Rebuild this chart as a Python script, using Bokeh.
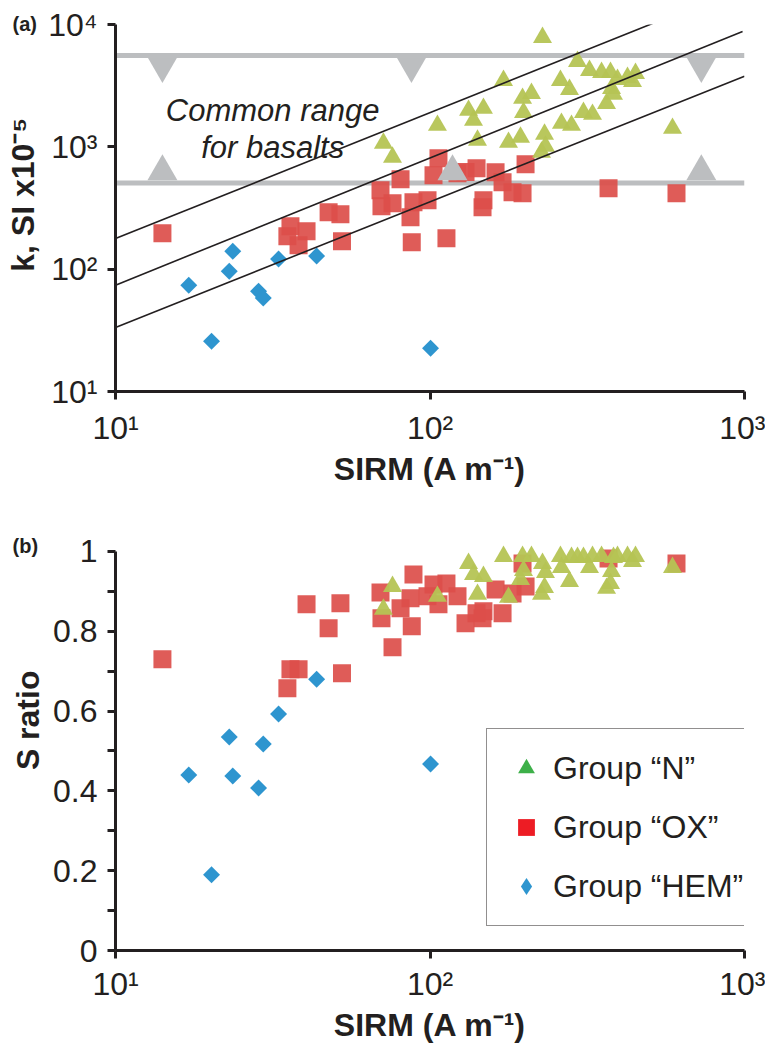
from bokeh.plotting import figure
from bokeh.models import (Range1d, FixedTicker, CustomJSTickFormatter, Label, Legend,
                          LegendItem)
from bokeh.layouts import column
from bokeh.embed import file_html
from bokeh.resources import INLINE
import math

FONT = "Liberation Sans"
INK = "#231f20"

# ---------------- data ----------------
# Group "HEM"
hem_sirm = [17.1, 20.2, 23.0, 23.6, 28.5, 29.5, 33.0, 43.6, 100.4]
hem_k = [74, 25.8, 96, 140, 66, 58, 121, 128, 22.6]
hem_s = [0.44, 0.19, 0.535, 0.4375, 0.4075, 0.5175, 0.5925, 0.68, 0.4675]

# Group "OX"
ox_sirm = [14.1, 35.2, 36.0, 38.2, 40.5, 47.6, 51.9, 52.5, 69.6, 70.1, 76.0, 80.6, 86.7, 87.5,
           88.6, 98.2, 102.6, 106.4, 112.8, 122.3, 129.7, 140.6, 146.9, 147.9, 161.6, 170.1,
           183.0, 196.9, 201.3, 369.6, 607.8]
ox_k = [197, 186, 224, 157, 204, 292, 281, 169, 442, 327, 346, 543, 266, 166, 352, 366, 585,
        806, 179, 608, 622, 668, 321, 366, 619, 513, 425, 417, 720, 459, 417]
ox_s = [0.73, 0.6575, 0.705, 0.705, 0.8675, 0.8075, 0.87, 0.695, 0.8975, 0.8325, 0.76, 0.8575,
        0.8825, 0.8125, 0.9425, 0.8875, 0.9175, 0.8675, 0.92, 0.8875, 0.82, 0.845, 0.8325, 0.85,
        0.905, 0.845, 0.895, 0.97, 0.9125, 0.9825, 0.97]

# Group "N"
n_sirm = [71.1, 76.0, 105.6, 132.6, 137.5, 141.6, 147.9, 171.3, 177.7, 196.9, 194.0, 198.3,
          210.2, 227.9, 226.2, 231.3, 232.9, 259.9, 261.8, 277.7, 281.8, 294.4, 307.6, 321.5,
          328.6, 351.1, 364.2, 374.9, 377.7, 383.2, 394.6, 424.6, 440.4, 450.2, 590.3]
n_k = [1068, 821, 1498, 1986, 1646, 1130, 2062, 3490, 1088, 2489, 1196, 1912, 2734, 7832, 902,
       1265, 1010, 3490, 1555, 2948, 1498, 4989, 1912, 4212, 1842, 4057, 2265, 4057, 3004, 2684,
       3556, 3692, 3425, 3981, 1416]
n_s = [0.855, 0.9125, 0.8875, 0.97, 0.9425, 0.8925, 0.9375, 0.9875, 0.885, 0.9875, 0.93, 0.9525,
       0.9875, 0.97, 0.8925, 0.91, 0.9475, 0.9875, 0.96, 0.925, 0.985, 0.985, 0.985, 0.96, 0.9875,
       0.9875, 0.9075, 0.92, 0.95, 0.985, 0.9875, 0.9875, 0.975, 0.9875, 0.96]

# common range of susceptibility for basalts (k, SI x10^-5)
basalt_k_low = 507
basalt_k_high = 5580
basalt_sirm_span = [10, 1000]
range_marker_down_sirm = [14.1, 87.3, 729]
range_marker_down_k = [4600, 4600, 4600]
range_marker_up_sirm = [14.1, 117.9, 729]
range_marker_up_k = [628, 628, 628]

# reference lines (SIRM vs k)
ref_lines_sirm = [[10, 510], [10, 986], [10, 1000]]
ref_lines_k = [[178, 10190], [74, 8770], [33.4, 3780]]

legend_labels = ["Group \u201cN\u201d", "Group \u201cOX\u201d", "Group \u201cHEM\u201d"]

C_N = "#b5c454"
C_OX = "#dc4e4a"
C_HEM = "#2e95cf"
C_GRAY = "#bcbec0"
PAD = "\u00a0"

# ---------------- helpers ----------------
pow_fmt = CustomJSTickFormatter(code="""
const sup = {"0":"\u2070","1":"\u00b9","2":"\u00b2","3":"\u00b3","4":"\u2074","5":"\u2075"};
const e = Math.round(Math.log10(tick));
return "10" + sup[String(e)];
""")

lin_fmt = CustomJSTickFormatter(code="""
if (Math.abs(tick) < 1e-9) return "0";
if (Math.abs(tick - 1) < 1e-9) return "1";
return tick.toFixed(1);
""")


def style_axis(ax):
    ax.axis_line_width = 3
    ax.axis_line_color = INK
    ax.major_tick_line_width = 3
    ax.major_tick_line_color = INK
    ax.major_tick_out = 8
    ax.major_tick_in = 0
    ax.minor_tick_line_color = None
    ax.major_label_text_font = FONT
    ax.major_label_text_font_size = "32px"
    ax.major_label_text_color = INK
    ax.axis_label_text_font = FONT
    ax.axis_label_text_font_style = "bold"
    ax.axis_label_text_font_size = "32px"
    ax.axis_label_text_color = INK


def base_fig(height, y_range, y_type, top, bottom, tag, tag_standoff):
    p = figure(width=765, height=height, x_axis_type="log", y_axis_type=y_type,
               x_range=Range1d(10, 1000), y_range=y_range,
               output_backend="svg", toolbar_location=None,
               min_border_left=115, min_border_right=21,
               min_border_top=top, min_border_bottom=bottom,
               title=tag)
    p.title.align = "left"
    p.title.offset = -103
    p.title.standoff = tag_standoff
    p.title.text_font = FONT
    p.title.text_font_style = "bold"
    p.title.text_font_size = "20px"
    p.title.text_color = INK
    p.outline_line_color = None
    p.xgrid.visible = False
    p.ygrid.visible = False
    p.background_fill_color = "white"
    p.border_fill_color = "white"
    return p


# ---------------- panel (a) ----------------
p1 = base_fig(490, Range1d(10, 10000), "log", 24, 99, "(a)", -20)

for kv in (basalt_k_low, basalt_k_high):
    p1.line(x=basalt_sirm_span, y=[kv, kv], line_color=C_GRAY, line_width=5)

p1.scatter(x=hem_sirm, y=hem_k, marker="square", angle=math.pi / 4, size=12,
           fill_color=C_HEM, line_color=None)
p1.scatter(x=ox_sirm, y=ox_k, marker="square", size=18, fill_color=C_OX, fill_alpha=0.92,
           line_color=None)
p1.scatter(x=n_sirm, y=n_k, marker="triangle", size=19, fill_color=C_N, fill_alpha=0.95,
           line_color=None)

p1.multi_line(xs=ref_lines_sirm, ys=ref_lines_k, line_color=INK, line_width=1.6)

p1.scatter(x=range_marker_down_sirm, y=range_marker_down_k, marker="inverted_triangle",
           size=30, fill_color=C_GRAY, line_color=None)
p1.scatter(x=range_marker_up_sirm, y=range_marker_up_k, marker="triangle",
           size=30, fill_color=C_GRAY, line_color=None)

for txt, yv in (("Common range", 1986), ("for basalts", 991)):
    p1.add_layout(Label(x=31.6, y=yv, text=txt, text_align="center",
                        text_baseline="alphabetic", text_font=FONT,
                        text_font_style="italic", text_font_size="31px", text_color=INK))

p1.xaxis.ticker = FixedTicker(ticks=[10, 100, 1000])
p1.yaxis.ticker = FixedTicker(ticks=[10, 100, 1000, 10000])
p1.xaxis.formatter = pow_fmt
p1.yaxis.formatter = pow_fmt
style_axis(p1.xaxis[0])
style_axis(p1.yaxis[0])
p1.xaxis.axis_label = "SIRM (A m\u207b\u00b9)"
p1.yaxis.axis_label = PAD * 3 + "k, SI x10\u207b\u2075"
p1.xaxis.major_label_standoff = 10
p1.xaxis.axis_label_standoff = 2
p1.yaxis.major_label_standoff = 10
p1.yaxis.axis_label_standoff = 4

# ---------------- panel (b) ----------------
p2 = base_fig(556, Range1d(0, 1.02), "linear", 53, 96, "(b)", -26)

p2.scatter(x=hem_sirm, y=hem_s, marker="square", angle=math.pi / 4, size=12,
           fill_color=C_HEM, line_color=None)
p2.scatter(x=ox_sirm, y=ox_s, marker="square", size=18, fill_color=C_OX, fill_alpha=0.92,
           line_color=None)
p2.scatter(x=n_sirm, y=n_s, marker="triangle", size=19, fill_color=C_N, fill_alpha=0.95,
           line_color=None)

p2.xaxis.ticker = FixedTicker(ticks=[10, 100, 1000])
p2.xaxis.formatter = pow_fmt
p2.yaxis.ticker = FixedTicker(ticks=[0, 0.2, 0.4, 0.6, 0.8, 1.0],
                              minor_ticks=[0.1, 0.3, 0.5, 0.7, 0.9])
p2.yaxis.formatter = lin_fmt
style_axis(p2.xaxis[0])
style_axis(p2.yaxis[0])
p2.yaxis.minor_tick_line_color = INK
p2.yaxis.minor_tick_line_width = 3
p2.yaxis.minor_tick_out = 8
p2.yaxis.minor_tick_in = 0
p2.yaxis.bounds = (0, 1)
p2.xaxis.axis_label = "SIRM (A m\u207b\u00b9)"
p2.yaxis.axis_label = PAD * 6 + "S ratio"
p2.xaxis.major_label_standoff = 7
p2.xaxis.axis_label_standoff = 2
p2.yaxis.major_label_standoff = 10
p2.yaxis.axis_label_standoff = 4

# legend swatches: one point each, placed outside the visible ranges so only the key shows
leg_n = p2.scatter(x=[1], y=[-1], marker="triangle", size=17, fill_color="#3db049",
                   line_color=None)
leg_ox = p2.scatter(x=[1], y=[-1], marker="square", size=17, fill_color="#ed1c24",
                    line_color=None)
leg_hem = p2.scatter(x=[1], y=[-1], marker="diamond", size=17,
                     fill_color=C_HEM, line_color=None)
legend = Legend(items=[LegendItem(label=legend_labels[0], renderers=[leg_n]),
                       LegendItem(label=legend_labels[1], renderers=[leg_ox]),
                       LegendItem(label=legend_labels[2], renderers=[leg_hem])],
                location=(371, 24), orientation="vertical",
                border_line_color=INK, border_line_width=1.5,
                background_fill_color="white", background_fill_alpha=1,
                label_text_font=FONT, label_text_font_size="32px", label_text_color=INK,
                glyph_width=42, glyph_height=42, spacing=17, padding=18, margin=0,
                label_standoff=6)
p2.add_layout(legend)

layout = column(p1, p2)
open("out.html", "w").write(file_html(layout, INLINE))
